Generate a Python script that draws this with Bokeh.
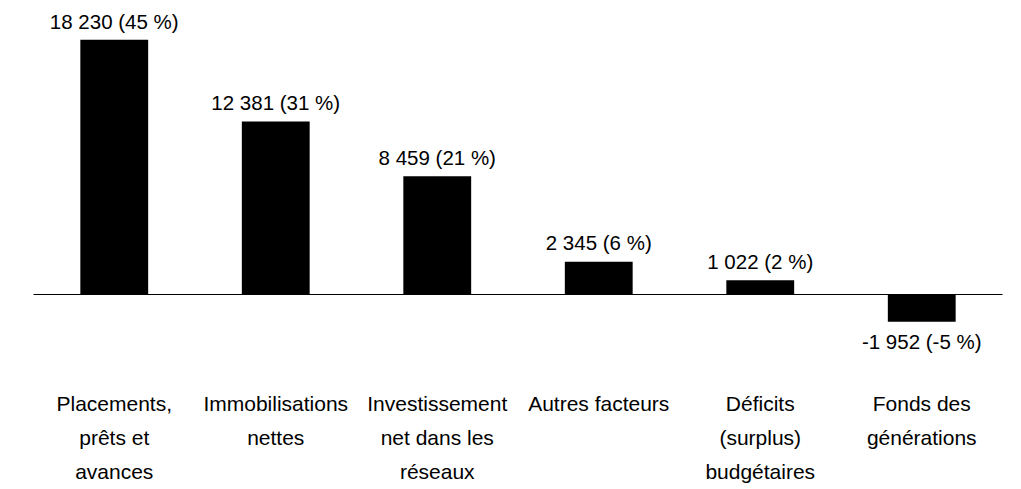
from bokeh.plotting import figure
from bokeh.models import ColumnDataSource, Range1d
from bokeh.core.properties import value
from bokeh.embed import file_html
from bokeh.resources import INLINE

categories = [
    "Placements,\nprêts et\navances",
    "Immobilisations\nnettes",
    "Investissement\nnet dans les\nréseaux",
    "Autres facteurs",
    "Déficits\n(surplus)\nbudgétaires",
    "Fonds des\ngénérations",
]
values = [18230, 12381, 8459, 2345, 1022, -1952]
percents = [45, 31, 21, 6, 2, -5]

W, H = 1021, 489
LEFT_PX, SLOT_PX, ZERO_PX = 33.0, 161.5, 294.0
UPP = 71.57  # data units per pixel (vertical)

def fmt(v):
    s = f"{abs(v):,}".replace(",", " ")
    return ("-" if v < 0 else "") + s

n = len(categories)
xs = [i + 0.5 for i in range(n)]
labels = [f"{fmt(v)} ({p} %)" for v, p in zip(values, percents)]

y_top = ZERO_PX * UPP
y_bot = -(H - ZERO_PX) * UPP
label_y = []
for v in values:
    if v >= 0:
        label_y.append(min(v + 19 * UPP, y_top - 21 * UPP))
    else:
        label_y.append(v - 20 * UPP)

src = ColumnDataSource(dict(x=xs, top=values, lab=labels, ly=label_y, cat=categories,
                            cy=[-(391 - ZERO_PX) * UPP] * n))

p = figure(width=W, height=H, output_backend="svg", toolbar_location=None,
           x_range=Range1d(-LEFT_PX / SLOT_PX, (W - LEFT_PX) / SLOT_PX),
           y_range=Range1d(y_bot, y_top), min_border=0)
p.axis.visible = False
p.grid.visible = False
p.outline_line_color = None
p.background_fill_color = "white"
p.border_fill_color = "white"

p.vbar(x="x", top="top", bottom=0, width=0.42, source=src,
       fill_color="black", line_color=None)
p.segment(x0=0, x1=n, y0=0, y1=0, line_color="black", line_width=1)

p.text(x="x", y="ly", text="lab", source=src, text_align="center",
       text_baseline="alphabetic", text_font=value("Liberation Sans"),
       text_font_size="20.5px", text_color="black")

p.text(x="x", y="cy", text="cat", source=src, text_align="center",
       text_baseline="top", text_font=value("Liberation Sans"),
       text_font_size="21px", text_color="black", text_line_height=1.49)

open("out.html", "w").write(file_html(p, INLINE))
